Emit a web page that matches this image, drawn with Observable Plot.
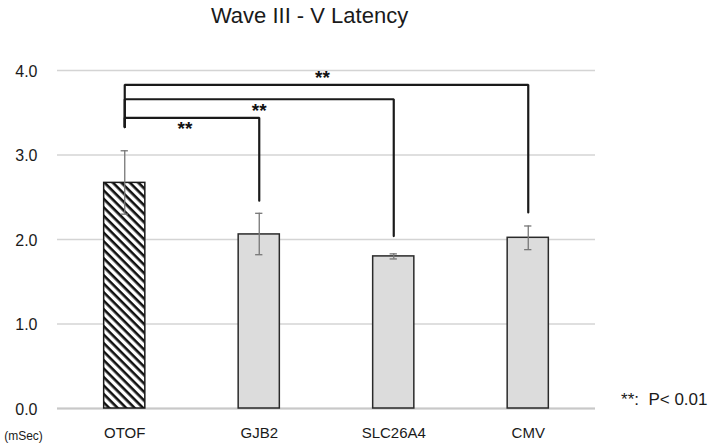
<!DOCTYPE html>
<html><head><meta charset="utf-8">
<script src="https://cdn.jsdelivr.net/npm/d3@7"></script>
<script src="https://cdn.jsdelivr.net/npm/@observablehq/plot@0.6"></script>
<style>body{margin:0;background:#fff;font-family:"Liberation Sans",Arial,sans-serif;} svg text{white-space:pre;}</style>
</head><body><div id="chart"></div>
<script>
const categories = ["OTOF", "GJB2", "SLC26A4", "CMV"];
const means = [2.67, 2.06, 1.80, 2.02];
const errLow = [2.30, 1.82, 1.77, 1.88];
const errHigh = [3.05, 2.31, 1.83, 2.16];
const yTicks = [0, 1, 2, 3, 4];
// significance brackets: comparison target, bracket height, end of right leg, star label
const compTargets = ["GJB2", "SLC26A4", "CMV"];
const compHeights = [3.44, 3.66, 3.83];
const compEnds = [2.46, 2.04, 2.32];
const compLabels = ["**", "**", "**"];
const compStart = 3.33;
const legendText = "**:  P< 0.01";

const idx = c => categories.indexOf(c);
const half = 0.153, cap = 0.027;
const bars = categories.map((c, i) => ({c, i, v: means[i], lo: errLow[i], hi: errHigh[i]}));
const brackets = compTargets.flatMap((t, k) => {
  const j = idx(t);
  return [
    {k, x: 0, y: compStart},
    {k, x: 0, y: compHeights[k]},
    {k, x: j, y: compHeights[k]},
    {k, x: j, y: compEnds[k]}
  ];
});
const stars = compTargets.map((t, k) => ({x: idx(t) / 2, y: compHeights[k], k, label: compLabels[k]}));
const starOffsets = [{dx: -7, dy: 11}, {dx: 0, dy: 12}, {dx: -4, dy: -7}];

const plot = Plot.plot({
  width: 709, height: 446,
  marginLeft: 57, marginRight: 114, marginTop: 70, marginBottom: 38,
  style: {fontFamily: "'Liberation Sans', Arial, sans-serif", background: "#fff", overflow: "visible"},
  x: {domain: [-0.5, 3.5], axis: null},
  y: {domain: [0, 4], axis: null},
  marks: [
    Plot.ruleY(yTicks, {stroke: "#d4d4d4", strokeWidth: 1.3}),
    Plot.ruleY([0], {stroke: "#c8c8c8", strokeWidth: 2}),
    Plot.text(yTicks, {x: -0.5, y: d => d, text: d => d.toFixed(1), dx: -20, dy: 1, textAnchor: "end", fontSize: 16, fill: "#1a1a1a"}),
    Plot.text(categories, {x: (d, i) => i, y: 0, text: d => d, dy: 25, fontSize: 15, fill: "#1a1a1a"}),
    Plot.text(["(mSec)"], {x: -0.5, y: 0, text: d => d, dx: -34, dy: 28, fontSize: 12, fill: "#1a1a1a"}),
    Plot.rect(bars.filter(d => d.i > 0), {x1: d => d.i - half, x2: d => d.i + half, y1: 0, y2: "v", fill: "#dcdcdc", stroke: "#2a2a2a", strokeWidth: 1.5}),
    Plot.rect(bars.filter(d => d.i === 0), {x1: d => d.i - half, x2: d => d.i + half, y1: 0, y2: "v", fill: "url(#hatch)", stroke: "#1a1a1a", strokeWidth: 1.5}),
    Plot.ruleX(bars, {x: "i", y1: "lo", y2: "hi", stroke: "#777", strokeWidth: 1.3}),
    Plot.ruleY(bars, {y: "hi", x1: d => d.i - cap, x2: d => d.i + cap, stroke: "#777", strokeWidth: 1.3}),
    Plot.ruleY(bars, {y: "lo", x1: d => d.i - cap, x2: d => d.i + cap, stroke: "#777", strokeWidth: 1.3}),
    Plot.line(brackets, {x: "x", y: "y", z: "k", stroke: "#1a1a1a", strokeWidth: 2.2, strokeLinejoin: "miter", curve: "linear"}),
    ...stars.map((s, k) => Plot.text([s], {x: "x", y: "y", text: "label", dx: starOffsets[k].dx, dy: starOffsets[k].dy, fontSize: 19, fontWeight: "bold", fill: "#111"})),
    Plot.text(["Wave III - V Latency"], {frameAnchor: "top", text: d => d, dy: -63, dx: -17, fontSize: 22, fill: "#1a1a1a"}),
    Plot.text([legendText], {frameAnchor: "bottom-right", text: d => d, dx: 112, dy: -4, textAnchor: "end", fontSize: 17, fill: "#1a1a1a"})
  ]
});
const svg = d3.select(plot);
const defs = svg.insert("defs", ":first-child");
const pat = defs.append("pattern").attr("id", "hatch").attr("patternUnits", "userSpaceOnUse")
  .attr("width", 6).attr("height", 6).attr("patternTransform", "rotate(45)");
pat.append("rect").attr("width", 6).attr("height", 6).attr("fill", "#fff");
pat.append("rect").attr("width", 6).attr("height", 2.6).attr("fill", "#111");
document.getElementById("chart").appendChild(plot);
</script></body></html>
